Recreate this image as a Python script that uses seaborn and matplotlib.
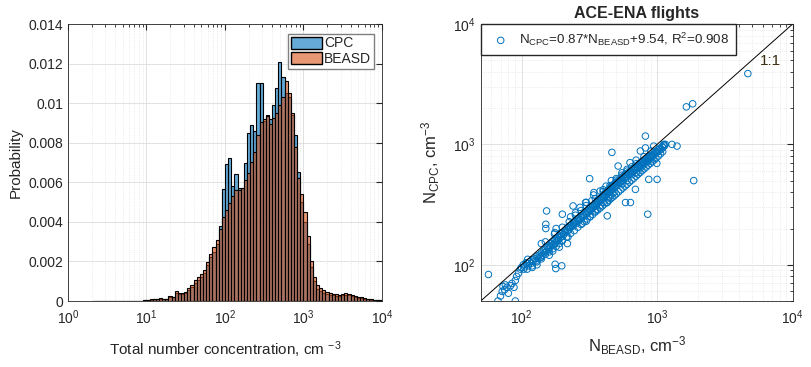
import numpy as np
import matplotlib
matplotlib.use("Agg")
import matplotlib.pyplot as plt
from matplotlib.patches import Patch
from matplotlib.ticker import FuncFormatter, MultipleLocator, LogLocator, NullFormatter
import seaborn as sns

# ---- histogram data (log10 bin width 0.04, first edge at 10^0.32) ----
LOG_LO, LOG_HI, N_BINS = 0.32, 4.0, 92

# probability per bin, BEASD
beasd_prob = [
    0.00001, 0.00001, 0.00001, 0.00001, 0.00001, 0.00001, 0.00001, 0.00001,
    0.00001, 0.00001, 0.00001, 0.00001, 0.00002, 0.00002, 0.00002, 0.00002,
    0.00004, 0.00005, 0.00008, 0.0001, 0.0001, 0.00015, 0.00012, 0.00012,
    0.00025, 0.00022, 0.00049, 0.0004, 0.00042, 0.00045, 0.00066, 0.0008,
    0.00106, 0.0012, 0.00136, 0.00157, 0.00197, 0.00238, 0.00271, 0.00308,
    0.00364, 0.00423, 0.0046, 0.00497, 0.0053, 0.0056, 0.0056, 0.0057,
    0.0061, 0.00645, 0.00704, 0.00755, 0.0084, 0.00906, 0.0092, 0.00937,
    0.00895, 0.00923, 0.0095, 0.0099, 0.01033, 0.0111, 0.0105, 0.0095,
    0.0078, 0.0062, 0.0054, 0.0045, 0.0033, 0.0020, 0.00123, 0.0008,
    0.00065, 0.00055, 0.00045, 0.0004, 0.00035, 0.00033, 0.0003, 0.00035,
    0.00038, 0.00035, 0.0003, 0.00025, 0.0002, 0.00018, 0.00015, 0.0001,
    0.00008, 0.00006, 0.00005, 0.00004,
]

# probability per bin, CPC
cpc_prob = [
    0.00001, 0.00001, 0.00001, 0.00001, 0.00001, 0.00001, 0.00001, 0.00001,
    0.00001, 0.00001, 0.00001, 0.00001, 0.00002, 0.00002, 0.00002, 0.00002,
    0.00003, 0.00004, 0.00006, 0.00008, 0.00008, 0.00012, 0.0001, 0.0001,
    0.0002, 0.00018, 0.0004, 0.00033, 0.00036, 0.0004, 0.00055, 0.0007,
    0.0009, 0.00105, 0.0012, 0.0014, 0.0018, 0.0022, 0.0025, 0.0029,
    0.0038, 0.00564, 0.0069, 0.00724, 0.0058, 0.0064, 0.0057, 0.0057,
    0.0070, 0.0085, 0.0089, 0.0086, 0.0110, 0.0110, 0.0091, 0.0094,
    0.0092, 0.0099, 0.01075, 0.0121, 0.0113, 0.0105, 0.0103, 0.0094,
    0.0084, 0.0065, 0.0050, 0.0040, 0.0029, 0.0017, 0.0010, 0.0006,
    0.0005, 0.0004, 0.00035, 0.0003, 0.00028, 0.00026, 0.00025, 0.0003,
    0.00032, 0.0003, 0.00025, 0.0002, 0.00017, 0.00015, 0.00012, 0.00009,
    0.00007, 0.00005, 0.00004, 0.00003,
]

# ---- scatter data: N_BEASD vs N_CPC (cm^-3) ----
band_beasd = [
    98, 100, 103, 105, 108, 110, 112, 115, 118, 120, 122, 125, 128, 130, 132, 135,
    138, 140, 142, 145, 148, 150, 152, 155, 158, 160, 163, 165, 168, 170, 173, 175,
    178, 180, 183, 185, 188, 190, 193, 195, 198, 200, 205, 208, 210, 215, 218, 220,
    225, 228, 230, 235, 240, 242, 245, 250, 255, 258, 262, 265, 270, 275, 280, 285,
    290, 295, 300, 305, 310, 315, 320, 325, 330, 335, 340, 345, 350, 355, 360, 365,
    370, 375, 380, 385, 390, 395, 400, 405, 410, 415, 420, 425, 430, 435, 440, 445,
    450, 455, 460, 465, 470, 475, 480, 485, 490, 495, 500, 510, 515, 520, 530, 535,
    540, 550, 555, 560, 570, 575, 580, 590, 600, 610, 620, 630, 640, 650, 660, 670,
    680, 690, 700, 710, 720, 730, 740, 750, 760, 770, 780, 790, 800, 810, 820, 830,
    840, 850, 860, 870, 880, 890, 900, 920, 930, 950, 960, 980, 1000, 1010, 1030, 1050,
    1070, 1090, 1100, 1120, 1130, 1150,
]
band_cpc = [
    92, 95, 100, 96, 104, 102, 98, 106, 103, 110, 107, 112, 108, 118, 114, 120,
    116, 125, 120, 130, 126, 134, 128, 140, 135, 145, 140, 150, 145, 155, 148, 160,
    152, 165, 158, 170, 162, 175, 168, 180, 172, 185, 178, 192, 185, 198, 190, 205,
    198, 212, 205, 215, 210, 225, 218, 230, 222, 240, 232, 245, 238, 255, 248, 262,
    255, 270, 262, 280, 272, 290, 282, 300, 290, 310, 300, 318, 308, 330, 318, 340,
    330, 350, 340, 362, 350, 372, 360, 385, 370, 395, 380, 405, 390, 418, 400, 428,
    410, 440, 420, 450, 430, 460, 440, 470, 450, 482, 460, 490, 470, 500, 480, 515,
    495, 525, 505, 540, 520, 555, 530, 565, 545, 580, 560, 595, 575, 610, 590, 630,
    605, 645, 625, 660, 640, 680, 655, 700, 670, 715, 690, 730, 705, 745, 720, 760,
    735, 775, 750, 790, 765, 805, 780, 820, 800, 850, 830, 870, 860, 900, 880, 930,
    910, 960, 940, 990, 970, 1000,
]
low_band_beasd = [
    110, 120, 130, 140, 150, 160, 170, 180, 190, 200, 215, 230, 245, 260, 275, 290,
    305, 320, 335, 350, 365, 380, 395, 410, 425, 440, 455, 470, 485, 500, 520, 540,
    560, 580, 600, 625, 650, 675, 700, 725, 750, 775, 800, 830, 860, 890, 920, 950,
    980, 1020, 1060, 1100,
]
low_band_cpc = [
    92, 98, 106, 112, 122, 128, 136, 142, 150, 158, 170, 182, 192, 205, 216, 228,
    240, 252, 262, 274, 285, 296, 308, 320, 330, 342, 354, 365, 376, 388, 404, 420,
    435, 450, 466, 486, 505, 525, 545, 565, 585, 605, 625, 648, 672, 695, 718, 742,
    765, 800, 835, 870,
]
high_band_beasd = [150, 175, 200, 225, 250, 275, 300, 350, 400, 450, 500, 550, 600, 700, 800, 900]
high_band_cpc = [155, 180, 205, 228, 258, 282, 310, 355, 405, 455, 505, 555, 600, 690, 790, 880]
spread_beasd = [
    300, 320, 340, 360, 380, 400, 420, 440, 460, 480, 300, 250, 270, 200, 180, 160,
    140, 130, 220, 230, 350, 450, 500, 550, 600, 650, 700, 750, 800, 850, 700, 650,
    600, 550, 400, 380, 330, 280, 190, 170,
]
spread_cpc = [
    330, 250, 380, 290, 410, 330, 450, 360, 500, 400, 230, 270, 300, 160, 200, 120,
    150, 100, 170, 250, 280, 380, 520, 470, 500, 560, 580, 640, 680, 720, 740, 650,
    620, 580, 420, 310, 340, 220, 140, 130,
]
outlier_beasd = [
    57, 67, 70, 72, 75, 78, 80, 83, 85, 88, 90, 90, 92, 95, 73, 76,
    153, 464, 820, 4670, 1644, 1830, 1862, 853, 1000, 868, 1288, 1403, 995, 692,
    636, 585, 429, 429, 318, 342, 297, 240, 200, 151, 151, 176, 177, 179, 198, 218,
    111, 104, 120, 139, 516, 631, 753, 820, 944, 1122,
]
outlier_cpc = [
    83, 50, 55, 60, 62, 65, 58, 67, 70, 65, 74, 50, 80, 85, 66, 68,
    280, 859, 1172, 3873, 2050, 2174, 500, 263, 512, 512, 1000, 968, 696, 423,
    329, 329, 255, 329, 519, 398, 329, 308, 263, 200, 217, 185, 101, 93, 98, 150,
    111, 92, 95, 115, 661, 705, 881, 935, 968, 1000,
]

BLUE = (0.0, 0.447, 0.741)
ORANGE = (0.85, 0.325, 0.098)
DARK = "#262626"

sns.set_style("white")
plt.rcParams["font.family"] = ["Liberation Sans", "DejaVu Sans"]
plt.rcParams["mathtext.default"] = "regular"
plt.rcParams["text.color"] = DARK
plt.rcParams["axes.labelcolor"] = DARK
plt.rcParams["xtick.color"] = DARK
plt.rcParams["ytick.color"] = DARK

fig = plt.figure(figsize=(8.12, 3.67), dpi=100)
ax1 = fig.add_axes([0.0837, 0.1798, 0.3867, 0.7548])
ax2 = fig.add_axes([0.592, 0.1798, 0.3842, 0.7548])

edges = np.linspace(LOG_LO, LOG_HI, N_BINS + 1)
centers = 10 ** ((edges[:-1] + edges[1:]) / 2)

for vals, col in [(cpc_prob, BLUE), (beasd_prob, ORANGE)]:
    n0 = len(ax1.patches)
    sns.histplot(x=centers, weights=vals, bins=N_BINS, binrange=(LOG_LO, LOG_HI),
                 log_scale=True, ax=ax1, stat="count", element="bars")
    for p in ax1.patches[n0:]:
        p.set_alpha(None)
        p.set_facecolor((*col, 0.6))
        p.set_edgecolor("black")
        p.set_linewidth(0.8)


def style_axes(ax):
    ax.tick_params(which="both", direction="in", top=True, right=True,
                   labelsize=10, colors=DARK)
    ax.tick_params(which="major", length=4)
    ax.tick_params(which="minor", length=2)
    ax.tick_params(axis="x", which="major", pad=5)
    for s in ax.spines.values():
        s.set_color(DARK)
        s.set_linewidth(0.6)
    ax.grid(which="major", color="#dcdcdc", linewidth=0.6, linestyle="-")
    ax.set_axisbelow(True)


ax1.set_xlim(1, 1e4)
ax1.set_ylim(0, 0.014)
ax1.yaxis.set_major_locator(MultipleLocator(0.002))
ax1.yaxis.set_major_formatter(FuncFormatter(lambda v, p: "%g" % round(v, 4)))
ax1.xaxis.set_minor_locator(LogLocator(base=10, subs=np.arange(2, 10), numticks=20))
ax1.xaxis.set_minor_formatter(NullFormatter())
style_axes(ax1)
ax1.grid(which="minor", axis="x", color="#e4e4e4", linewidth=0.6, linestyle=":")
ax1.set_ylabel("Probability", fontsize=11)
ax1.set_xlabel("Total number concentration, cm $^{-3}$", fontsize=11, labelpad=9)
ax1.legend(handles=[Patch(facecolor=(*BLUE, 0.6), edgecolor="black", label="CPC"),
                    Patch(facecolor=(*ORANGE, 0.6), edgecolor="black", label="BEASD")],
           loc="upper right", bbox_to_anchor=(0.975, 0.965), fontsize=10,
           fancybox=False, framealpha=1, edgecolor="#808080", borderpad=0.2,
           handlelength=2.2, handleheight=1.0, handletextpad=0.2, labelspacing=0.1,
           borderaxespad=0.0)

# ---- scatter ----
all_beasd = band_beasd + low_band_beasd + high_band_beasd + spread_beasd + outlier_beasd
all_cpc = band_cpc + low_band_cpc + high_band_cpc + spread_cpc + outlier_cpc
sns.scatterplot(x=all_beasd, y=all_cpc, ax=ax2, marker="o", s=22,
                facecolor="none", edgecolor=BLUE, linewidth=0.7,
                label=r"N$_{CPC}$=0.87*N$_{BEASD}$+9.54, R$^2$=0.908")
ax2.set_xscale("log")
ax2.set_yscale("log")
ax2.plot([50, 1e4], [50, 1e4], color="black", linewidth=0.7)
ax2.text(6900, 4900, "1:1", fontsize=11, ha="center", va="center", color="#3a2a10")
ax2.set_xlim(50, 1e4)
ax2.set_ylim(50, 1e4)
for a in (ax2.xaxis, ax2.yaxis):
    a.set_major_locator(LogLocator(base=10, numticks=10))
    a.set_minor_locator(LogLocator(base=10, subs=np.arange(2, 10), numticks=20))
    a.set_minor_formatter(NullFormatter())
style_axes(ax2)
ax2.grid(which="minor", color="#e4e4e4", linewidth=0.6, linestyle=":")
ax2.set_xlabel(r"N$_{BEASD}$, cm$^{-3}$", fontsize=12, labelpad=6)
ax2.set_ylabel(r"N$_{CPC}$, cm$^{-3}$", fontsize=12, labelpad=8)
ax2.set_title("ACE-ENA flights", fontsize=11.5, fontweight="bold", pad=4)
ax2.legend(loc="upper left", fontsize=9.6, fancybox=False, framealpha=1,
           edgecolor=DARK, borderaxespad=0.0, borderpad=0.5, handletextpad=0.4,
           markerscale=1.0)

fig.savefig("out.png", dpi=100)
